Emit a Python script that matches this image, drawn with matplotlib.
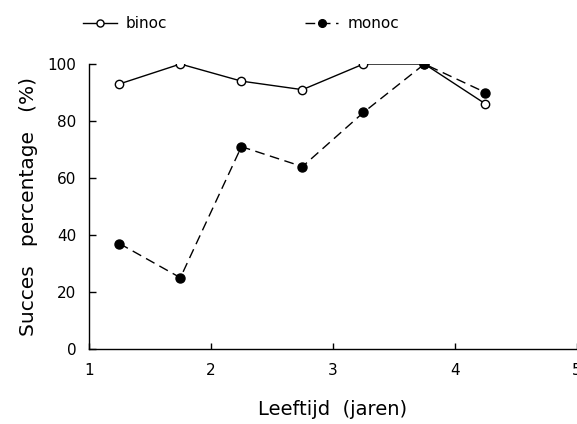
import matplotlib
matplotlib.use("Agg")
import matplotlib.pyplot as plt

plt.rcParams['font.family'] = ['DejaVu Sans']

# age (years) and success percentage per group
leeftijd = [1.25, 1.75, 2.25, 2.75, 3.25, 3.75, 4.25]
binoc = [93, 100, 94, 91, 100, 100, 86]
monoc = [37, 25, 71, 64, 83, 100, 90]

xticks = [1, 2, 3, 4, 5]
yticks = [0, 20, 40, 60, 80, 100]

fig = plt.figure(figsize=(5.77, 4.24), dpi=100)
ax = fig.add_axes([0.154, 0.177, 0.846, 0.672])

ax.plot(leeftijd, binoc, color='black', lw=1.0, marker='o', ms=6,
        mfc='white', mec='black', mew=1.0, label='binoc', zorder=3)
ax.plot(leeftijd, monoc, color='black', lw=1.0, dashes=(7, 4), marker='o',
        ms=6.5, mfc='black', mec='black', label='monoc', zorder=4)

ax.set_xlim(1, 5)
ax.set_ylim(0, 100)
ax.set_xticks(xticks)
ax.set_yticks(yticks)
ax.set_xticklabels([str(t) for t in xticks])
ax.set_yticklabels([str(t) for t in yticks])

for s in ['top', 'right']:
    ax.spines[s].set_visible(False)
ax.spines['left'].set_linewidth(1.0)
ax.spines['bottom'].set_linewidth(1.0)

ax.tick_params(axis='y', direction='in', length=5, width=1, pad=9, labelsize=11)
ax.tick_params(axis='x', direction='in', length=4, width=1, pad=10, labelsize=11)

ax.set_ylabel('Succes   percentage   (%)', fontsize=14.5, labelpad=7)
ax.set_xlabel('Leeftijd  (jaren)', fontsize=14, labelpad=16)

fig.legend(loc='upper left', bbox_to_anchor=(0.12, 0.995), ncol=2, frameon=False,
           fontsize=11, handlelength=2.2, handletextpad=0.6, columnspacing=9.0,
           markerscale=0.85)

fig.savefig('out.png', dpi=100)
